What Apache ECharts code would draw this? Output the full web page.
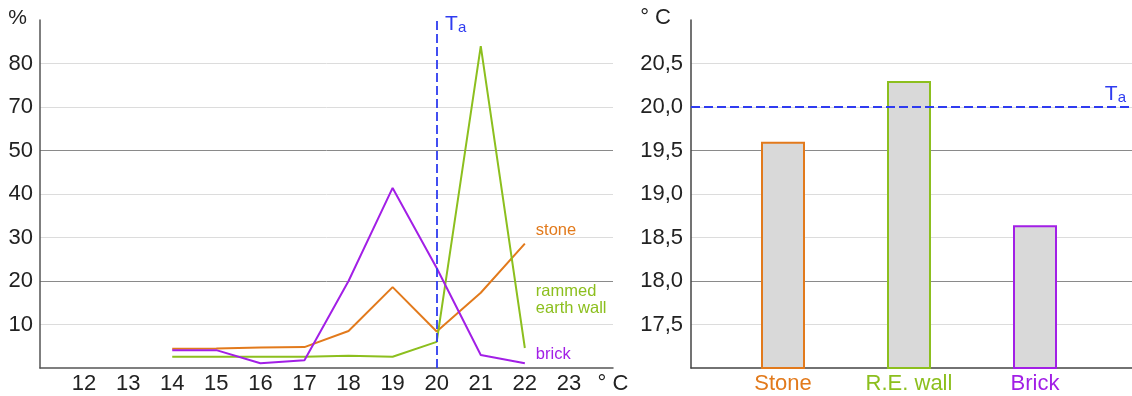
<!DOCTYPE html>
<html>
<head>
<meta charset="utf-8">
<script src="https://cdn.jsdelivr.net/npm/echarts@6/dist/echarts.min.js"></script>
<style>
  html, body { margin: 0; padding: 0; background: #fff; }
  #main { width: 1132px; height: 396px; }
</style>
</head>
<body>
<div id="main"></div>
<script>
// left chart: frequency (%) vs temperature (°C)
var temps = [14, 15, 16, 17, 18, 19, 20, 21, 22];
var stone = [4.4, 4.5, 4.7, 4.8, 8.5, 18.6, 8.4, 17.3, 28.6];
var rammed = [2.6, 2.6, 2.6, 2.6, 2.8, 2.6, 6.0, 84, 4.6];
var brick = [4.1, 4.1, 1.1, 1.8, 20, 41.4, 23, 3.0, 1.1];
var ambient = 20;

// right chart: mean surface temperature
var walls = ['Stone', 'R.E. wall', 'Brick'];
var wallTemps = [19.6, 20.3, 18.64];

var cOrange = '#e27a1c';
var cGreen = '#8cbf1e';
var cPurple = '#a21fe6';
var cBlue = '#2f3cf0';
var wallColors = [cOrange, cGreen, cPurple];
var font = 'Liberation Sans, Arial, sans-serif';
var gridColors = ['#dcdcdc', '#8a8a8a', '#dcdcdc'];

// the % axis is broken above 50 (50 -> 70 is one step)
function toAxis(v) {
  if (v <= 50) return v;
  if (v <= 70) return 50 + (v - 50) / 2;
  return 60 + (v - 70);
}
function axisLabelText(d) {
  if (d <= 0 || d >= 80) return '';
  if (d <= 50) return String(d);
  return String(d + 10);
}
function pairs(arr) {
  return arr.map(function (v, i) { return [temps[i], toAxis(v)]; });
}

var taRich = {
  t: { fontSize: 21, color: cBlue, fontFamily: font },
  s: { fontSize: 15, color: cBlue, fontFamily: font, padding: [7, 0, 0, 0] }
};

var myChart = echarts.init(document.getElementById('main'));
var option = {
  animation: false,
  textStyle: { fontFamily: font },
  grid: [
    { left: 40, right: 519, top: 20, bottom: 28 },
    { left: 691, right: 0, top: 20, bottom: 28 },
    { left: 720, right: 34, top: 20, bottom: 28 }
  ],
  xAxis: [
    {
      gridIndex: 0, type: 'value', min: 11, max: 24, interval: 1,
      axisLine: { lineStyle: { color: '#555', width: 1.5 } },
      axisTick: { show: false },
      splitLine: { show: false },
      axisLabel: {
        color: '#222', fontSize: 22, margin: 5, showMaxLabel: true, showMinLabel: true,
        formatter: function (v) { return v === 24 ? '° C' : (v === 11 ? '' : String(v)); }
      }
    },
    {
      gridIndex: 1, type: 'value', min: 0, max: 1,
      axisLine: { lineStyle: { color: '#444', width: 1.5 } },
      axisTick: { show: false }, axisLabel: { show: false }, splitLine: { show: false }
    },
    {
      gridIndex: 2, type: 'category',
      data: walls.map(function (w, i) { return { value: w, textStyle: { color: wallColors[i] } }; }),
      axisLine: { show: false }, axisTick: { show: false },
      axisLabel: { fontSize: 22, margin: 5 }
    }
  ],
  yAxis: [
    {
      gridIndex: 0, type: 'value', min: 0, max: 80, interval: 10,
      name: '%', nameLocation: 'end', nameGap: 2,
      nameTextStyle: { color: '#222', fontSize: 21, align: 'right', verticalAlign: 'middle', padding: [0, 13, 0, 0] },
      axisLine: { show: true, lineStyle: { color: '#555', width: 1.5 } },
      axisTick: { show: false },
      axisLabel: { color: '#222', fontSize: 22, margin: 7, formatter: axisLabelText },
      splitLine: { show: true, showMinLine: false, showMaxLine: false, lineStyle: { color: gridColors, width: 1 } }
    },
    {
      gridIndex: 1, type: 'value', min: 17, max: 21, interval: 0.5,
      name: '° C', nameLocation: 'end', nameGap: 2,
      nameTextStyle: { color: '#222', fontSize: 22, align: 'right', verticalAlign: 'middle', padding: [0, 20, 0, 0] },
      axisLine: { show: true, lineStyle: { color: '#444', width: 1.5 } },
      axisTick: { show: false },
      axisLabel: {
        color: '#222', fontSize: 22, margin: 8,
        formatter: function (v) { return (v <= 17 || v >= 21) ? '' : v.toFixed(1).replace('.', ','); }
      },
      splitLine: { show: true, showMinLine: false, showMaxLine: false, lineStyle: { color: gridColors, width: 1 } }
    },
    { gridIndex: 2, type: 'value', min: 17, max: 21, show: false }
  ],
  series: [
    {
      name: 'stone', type: 'line', xAxisIndex: 0, yAxisIndex: 0,
      data: pairs(stone), symbol: 'none', lineStyle: { color: cOrange, width: 2 }, z: 3,
      endLabel: { show: true, formatter: 'stone', color: cOrange, fontSize: 16.5, distance: 11, offset: [0, -13] },
      markLine: {
        silent: true, symbol: 'none',
        lineStyle: { color: cBlue, type: [9, 4], width: 1.8 },
        label: {
          show: true, position: 'end', offset: [19, 20],
          formatter: '{t|T}{s|a}', rich: taRich
        },
        data: [{ xAxis: ambient }]
      }
    },
    {
      name: 'rammed earth wall', type: 'line', xAxisIndex: 0, yAxisIndex: 0,
      data: pairs(rammed), symbol: 'none', lineStyle: { color: cGreen, width: 2 }, z: 3,
      endLabel: { show: true, formatter: 'rammed\nearth wall', color: cGreen, fontSize: 16.5, lineHeight: 17, align: 'left', distance: 11, offset: [0, -48] }
    },
    {
      name: 'brick', type: 'line', xAxisIndex: 0, yAxisIndex: 0,
      data: pairs(brick), symbol: 'none', lineStyle: { color: cPurple, width: 2 }, z: 3,
      endLabel: { show: true, formatter: 'brick', color: cPurple, fontSize: 16.5, distance: 11, offset: [0, -9] }
    },
    {
      type: 'line', xAxisIndex: 1, yAxisIndex: 1, data: [], z: 1,
      markLine: {
        silent: true, symbol: 'none',
        lineStyle: { color: cBlue, type: [9, 4], width: 1.8 },
        label: {
          show: true, position: 'insideEndTop', distance: 2, padding: [0, 4, 0, 0],
          formatter: '{t|T}{s|a}', rich: taRich
        },
        data: [{ yAxis: ambient }]
      }
    },
    {
      type: 'bar', xAxisIndex: 2, yAxisIndex: 2, barWidth: 44, z: 3,
      data: wallTemps.map(function (v, i) {
        return { value: v, itemStyle: { color: '#d9d9d9', borderColor: wallColors[i], borderWidth: 2 } };
      })
    }
  ]
};
myChart.setOption(option);
</script>
</body>
</html>
